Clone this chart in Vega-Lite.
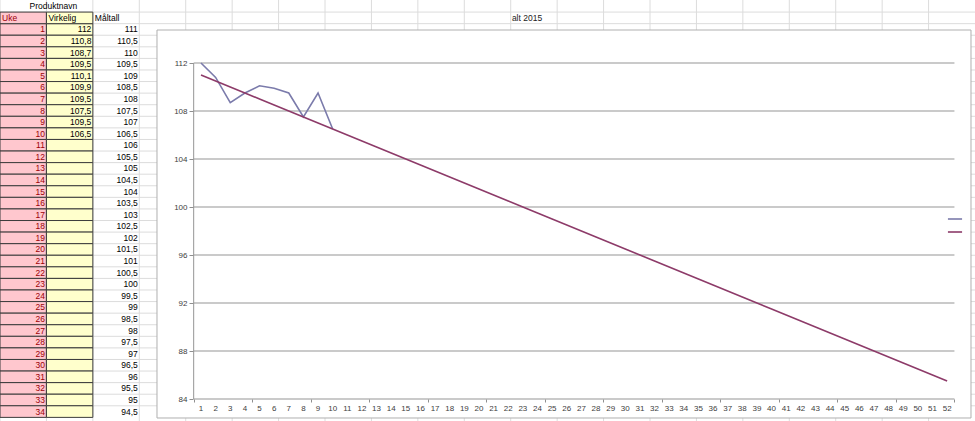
{
  "$schema": "https://vega.github.io/schema/vega-lite/v6.json",
  "width": 975,
  "height": 421,
  "padding": 0,
  "autosize": "none",
  "background": "white",
  "config": {
    "view": {"stroke": null},
    "font": "Liberation Sans",
    "locale": {"number": {"decimal": ",", "thousands": " ", "grouping": [3], "currency": ["", " kr"]}}
  },
  "datasets": {
    "uker": [
      {"Uke": 1, "Virkelig": 112, "Måltall": 111},
      {"Uke": 2, "Virkelig": 110.8, "Måltall": 110.5},
      {"Uke": 3, "Virkelig": 108.7, "Måltall": 110},
      {"Uke": 4, "Virkelig": 109.5, "Måltall": 109.5},
      {"Uke": 5, "Virkelig": 110.1, "Måltall": 109},
      {"Uke": 6, "Virkelig": 109.9, "Måltall": 108.5},
      {"Uke": 7, "Virkelig": 109.5, "Måltall": 108},
      {"Uke": 8, "Virkelig": 107.5, "Måltall": 107.5},
      {"Uke": 9, "Virkelig": 109.5, "Måltall": 107},
      {"Uke": 10, "Virkelig": 106.5, "Måltall": 106.5},
      {"Uke": 11, "Måltall": 106},
      {"Uke": 12, "Måltall": 105.5},
      {"Uke": 13, "Måltall": 105},
      {"Uke": 14, "Måltall": 104.5},
      {"Uke": 15, "Måltall": 104},
      {"Uke": 16, "Måltall": 103.5},
      {"Uke": 17, "Måltall": 103},
      {"Uke": 18, "Måltall": 102.5},
      {"Uke": 19, "Måltall": 102},
      {"Uke": 20, "Måltall": 101.5},
      {"Uke": 21, "Måltall": 101},
      {"Uke": 22, "Måltall": 100.5},
      {"Uke": 23, "Måltall": 100},
      {"Uke": 24, "Måltall": 99.5},
      {"Uke": 25, "Måltall": 99},
      {"Uke": 26, "Måltall": 98.5},
      {"Uke": 27, "Måltall": 98},
      {"Uke": 28, "Måltall": 97.5},
      {"Uke": 29, "Måltall": 97},
      {"Uke": 30, "Måltall": 96.5},
      {"Uke": 31, "Måltall": 96},
      {"Uke": 32, "Måltall": 95.5},
      {"Uke": 33, "Måltall": 95},
      {"Uke": 34, "Måltall": 94.5},
      {"Uke": 35, "Måltall": 94},
      {"Uke": 36, "Måltall": 93.5},
      {"Uke": 37, "Måltall": 93},
      {"Uke": 38, "Måltall": 92.5},
      {"Uke": 39, "Måltall": 92},
      {"Uke": 40, "Måltall": 91.5},
      {"Uke": 41, "Måltall": 91},
      {"Uke": 42, "Måltall": 90.5},
      {"Uke": 43, "Måltall": 90},
      {"Uke": 44, "Måltall": 89.5},
      {"Uke": 45, "Måltall": 89},
      {"Uke": 46, "Måltall": 88.5},
      {"Uke": 47, "Måltall": 88},
      {"Uke": 48, "Måltall": 87.5},
      {"Uke": 49, "Måltall": 87},
      {"Uke": 50, "Måltall": 86.5},
      {"Uke": 51, "Måltall": 86},
      {"Uke": 52, "Måltall": 85.5}
    ],
    "kolonner": [
      {"col": "Uke"}, {"col": "Virkelig"}, {"col": "Måltall"}, {"col": "D"}, {"col": "E"}, {"col": "F"}, {"col": "G"},
      {"col": "H"}, {"col": "I"}, {"col": "J"}, {"col": "K"}, {"col": "L"}, {"col": "M"}, {"col": "N"},
      {"col": "O"}, {"col": "P"}, {"col": "Q"}, {"col": "R"}, {"col": "S"}, {"col": "T"}, {"col": "U"}
    ],
    "rader": [
      {"rad": "H"}, {"rad": 1}, {"rad": 2}, {"rad": 3}, {"rad": 4}, {"rad": 5}, {"rad": 6}, {"rad": 7}, {"rad": 8},
      {"rad": 9}, {"rad": 10}, {"rad": 11}, {"rad": 12}, {"rad": 13}, {"rad": 14}, {"rad": 15}, {"rad": 16},
      {"rad": 17}, {"rad": 18}, {"rad": 19}, {"rad": 20}, {"rad": 21}, {"rad": 22}, {"rad": 23}, {"rad": 24},
      {"rad": 25}, {"rad": 26}, {"rad": 27}, {"rad": 28}, {"rad": 29}, {"rad": 30}, {"rad": 31}, {"rad": 32},
      {"rad": 33}, {"rad": 34}
    ]
  },
  "layer": [
    {
      "layer": [
        {
          "data": {"name": "kolonner"},
          "mark": {"type": "rule", "stroke": "#dcdcdc", "strokeWidth": 1},
          "encoding": {
            "x": {"field": "col", "type": "nominal", "bandPosition": 0, "scale": {"type": "band", "domain": ["Uke", "Virkelig", "Måltall", "D", "E", "F", "G", "H", "I", "J", "K", "L", "M", "N", "O", "P", "Q", "R", "S", "T", "U"], "paddingInner": 0, "paddingOuter": 0, "align": 0}, "axis": null}
          }
        },
        {
          "data": {"name": "rader"},
          "mark": {"type": "rule", "stroke": "#dcdcdc", "strokeWidth": 1},
          "encoding": {
            "y": {"field": "rad", "type": "ordinal", "bandPosition": 0, "scale": {"type": "band", "domain": ["P", "H", 1, 2, 3, 4, 5, 6, 7, 8, 9, 10, 11, 12, 13, 14, 15, 16, 17, 18, 19, 20, 21, 22, 23, 24, 25, 26, 27, 28, 29, 30, 31, 32, 33, 34], "paddingInner": 0, "paddingOuter": 0.178, "align": 0.121}, "axis": null}
          }
        },
        {
          "data": {"name": "uker"},
          "transform": [
            {"filter": "datum.Uke <= 34"},
            {"fold": ["Uke", "Virkelig", "Måltall"], "as": ["col", "val"]},
            {"filter": "datum.col !== 'Måltall'"}
          ],
          "mark": {"type": "rect", "stroke": "#3c3c3c", "strokeWidth": 1},
          "encoding": {
            "x": {"field": "col", "type": "nominal"},
            "y": {"field": "Uke", "type": "ordinal"},
            "fill": {"condition": {"test": "datum.col === 'Uke'", "value": "#FFC7CE"}, "value": "#FFFFCC"}
          }
        },
        {
          "data": {"values": [{"col": "Uke"}, {"col": "Virkelig"}]},
          "mark": {"type": "rect", "stroke": "#3c3c3c", "strokeWidth": 1},
          "encoding": {
            "x": {"field": "col", "type": "nominal"},
            "y": {"datum": "H", "type": "ordinal"},
            "fill": {"condition": {"test": "datum.col === 'Uke'", "value": "#FFC7CE"}, "value": "#FFFFCC"}
          }
        },
        {
          "data": {"name": "uker"},
          "transform": [
            {"filter": "datum.Uke <= 34"},
            {"fold": ["Uke", "Virkelig", "Måltall"], "as": ["col", "val"]},
            {"filter": "isValid(datum.val)"}
          ],
          "mark": {"type": "text", "align": "right", "baseline": "middle", "dx": -1.5, "fontSize": 8.5},
          "encoding": {
            "x": {"field": "col", "type": "nominal", "bandPosition": 1},
            "y": {"field": "Uke", "type": "ordinal"},
            "text": {"field": "val", "type": "quantitative", "format": "~f"},
            "fill": {"condition": {"test": "datum.col === 'Uke'", "value": "#9C0006"}, "value": "#000000"}
          }
        },
        {
          "data": {"values": [{"col": "Uke"}, {"col": "Virkelig"}, {"col": "Måltall"}]},
          "mark": {"type": "text", "align": "left", "baseline": "middle", "dx": 2, "fontSize": 8.5},
          "encoding": {
            "x": {"field": "col", "type": "nominal", "bandPosition": 0},
            "y": {"datum": "H", "type": "ordinal"},
            "text": {"field": "col", "type": "nominal"},
            "fill": {"condition": {"test": "datum.col === 'Uke'", "value": "#9C0006"}, "value": "#000000"}
          }
        },
        {
          "data": {"values": [{"t": "Produktnavn"}]},
          "mark": {"type": "text", "align": "center", "baseline": "middle", "dx": 7, "fontSize": 8.5, "fill": "#000000"},
          "encoding": {
            "x": {"datum": "Virkelig", "type": "nominal", "bandPosition": 0},
            "y": {"datum": "P", "type": "ordinal"},
            "text": {"field": "t", "type": "nominal"}
          }
        }
      ]
    },
    {
      "layer": [
        {
          "data": {"values": [{}]},
          "mark": {"type": "rect", "fill": "#ffffff", "stroke": "#b0b0b0", "strokeWidth": 1},
          "encoding": {
            "x": {
              "datum": -2.008, "type": "quantitative", "title": null,
              "scale": {"domain": [-12.739, 53.905], "nice": false, "zero": false},
              "axis": {
                "orient": "bottom", "offset": -22, "title": null, "domain": false, "grid": false, "zindex": 1,
                "values": [0.5, 1.5, 2.5, 3.5, 4.5, 5.5, 6.5, 7.5, 8.5, 9.5, 10.5, 11.5, 12.5, 13.5, 14.5, 15.5, 16.5, 17.5, 18.5, 19.5, 20.5, 21.5, 22.5, 23.5, 24.5, 25.5, 26.5, 27.5, 28.5, 29.5, 30.5, 31.5, 32.5, 33.5, 34.5, 35.5, 36.5, 37.5, 38.5, 39.5, 40.5, 41.5, 42.5, 43.5, 44.5, 45.5, 46.5, 47.5, 48.5, 49.5, 50.5, 51.5, 52.5],
                "tickSize": 3, "tickColor": "#8f8f8f", "labels": false
              }
            },
            "x2": {"datum": 53.631},
            "y": {
              "datum": 114.75, "type": "quantitative", "title": null,
              "scale": {"domain": [82.1667, 117.25], "nice": false, "zero": false},
              "axis": {
                "orient": "left", "offset": -193, "title": null, "domain": false, "grid": false, "zindex": 1,
                "values": [84, 88, 92, 96, 100, 104, 108, 112],
                "tickSize": 4, "tickColor": "#8f8f8f",
                "labelPadding": 2, "labelFontSize": 8, "labelColor": "#404040"
              }
            },
            "y2": {"datum": 82.417}
          }
        },
        {
          "data": {"values": [{"g": 84}, {"g": 88}, {"g": 92}, {"g": 96}, {"g": 100}, {"g": 104}, {"g": 108}, {"g": 112}]},
          "mark": {"type": "rule", "stroke": "#959595", "strokeWidth": 1},
          "encoding": {
            "x": {"datum": 0.5, "type": "quantitative", "title": null},
            "x2": {"datum": 52.5},
            "y": {"field": "g", "type": "quantitative", "title": null}
          }
        },
        {
          "data": {"values": [{}]},
          "mark": {"type": "rule", "stroke": "#959595", "strokeWidth": 1},
          "encoding": {
            "x": {"datum": 0.5, "type": "quantitative", "title": null},
            "y": {"datum": 84, "type": "quantitative", "title": null},
            "y2": {"datum": 112}
          }
        },
        {
          "data": {"name": "uker"},
          "mark": {"type": "text", "align": "center", "baseline": "middle", "dy": 10, "fontSize": 8, "fill": "#404040"},
          "encoding": {
            "x": {"field": "Uke", "type": "quantitative", "title": null},
            "y": {"datum": 84, "type": "quantitative", "title": null},
            "text": {"field": "Uke", "type": "quantitative", "format": "d"}
          }
        },
        {
          "data": {"name": "uker"},
          "transform": [
            {"fold": ["Virkelig", "Måltall"], "as": ["serie", "verdi"]},
            {"filter": "isValid(datum.verdi)"}
          ],
          "mark": {"type": "line", "strokeWidth": 1.6},
          "encoding": {
            "x": {"field": "Uke", "type": "quantitative", "title": null},
            "y": {"field": "verdi", "type": "quantitative", "title": null},
            "stroke": {
              "field": "serie", "type": "nominal",
              "scale": {"domain": ["Virkelig", "Måltall"], "range": ["#7b7bab", "#8d3b69"]},
              "legend": {
                "orient": "none", "legendX": 947, "legendY": 211, "title": null,
                "labelExpr": "''", "symbolType": "stroke", "symbolSize": 200, "symbolStrokeWidth": 1.6,
                "padding": 0, "rowPadding": 1, "labelFontSize": 1, "labelLimit": 1, "offset": 0
              }
            }
          }
        },
        {
          "data": {"values": [{"t": "alt 2015"}]},
          "mark": {"type": "text", "align": "center", "baseline": "middle", "fontSize": 8.5, "fill": "#222222"},
          "encoding": {
            "x": {"datum": 23.283, "type": "quantitative", "title": null},
            "y": {"datum": 115.75, "type": "quantitative", "title": null},
            "text": {"field": "t", "type": "nominal"}
          }
        }
      ]
    }
  ],
  "resolve": {"scale": {"x": "independent", "y": "independent"}}
}
